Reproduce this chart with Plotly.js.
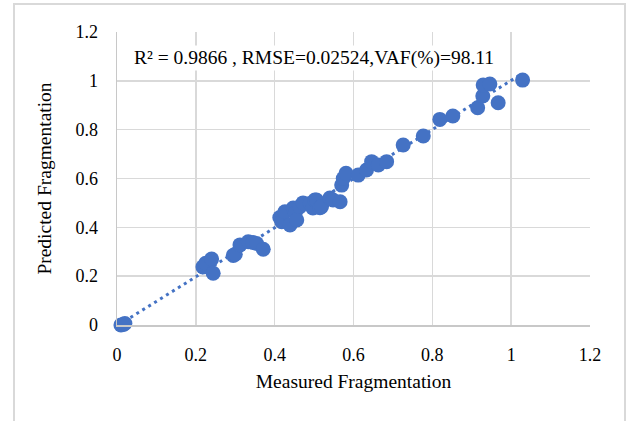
<!DOCTYPE html>
<html>
<head>
<meta charset="utf-8">
<script src="https://cdn.plot.ly/plotly-3.0.1.min.js"></script>
<style>
  html, body { margin: 0; padding: 0; background: #ffffff; }
  #frame { position: absolute; left: 13px; top: 3px; width: 613px; height: 440px; border: 2px solid #d9d9d9; box-sizing: border-box; }
  #chart { position: absolute; left: 0; top: 0; width: 631px; height: 421px; }
</style>
</head>
<body>
<div id="frame"></div>
<div id="chart"></div>
<script>
// Measured vs predicted fragmentation
const measured = [
  0.004, 0.010, 0.016, 0.020,
  0.218, 0.225, 0.240, 0.244,
  0.295, 0.300, 0.312, 0.333, 0.345, 0.354, 0.371,
  0.413, 0.418, 0.426, 0.439, 0.447, 0.452, 0.456, 0.464, 0.472, 0.490,
  0.497, 0.502, 0.506, 0.515, 0.519, 0.540, 0.548, 0.566, 0.570, 0.574, 0.581,
  0.612, 0.633, 0.646, 0.663, 0.684, 0.726, 0.777, 0.819, 0.852,
  0.915, 0.928, 0.929, 0.946, 0.967, 1.029
];
const predicted = [
  -0.002, 0.000, 0.002, 0.006,
  0.238, 0.253, 0.270, 0.212,
  0.285, 0.290, 0.328, 0.341, 0.338, 0.334, 0.310,
  0.440, 0.423, 0.464, 0.410, 0.479, 0.458, 0.430, 0.485, 0.500, 0.498,
  0.479, 0.512, 0.512, 0.480, 0.485, 0.520, 0.512, 0.505, 0.573, 0.600, 0.621,
  0.614, 0.635, 0.669, 0.655, 0.669, 0.737, 0.774, 0.842, 0.856,
  0.890, 0.938, 0.983, 0.987, 0.910, 1.003
];
const xTicks = [0, 0.2, 0.4, 0.6, 0.8, 1, 1.2];
const yTicks = [0, 0.2, 0.4, 0.6, 0.8, 1, 1.2];
const xTickText = ['0', '0.2', '0.4', '0.6', '0.8', '1', '1.2'];
const yTickText = ['0', '0.2', '0.4', '0.6', '0.8', '1', '1.2'];
const statsText = 'R² = 0.9866 , RMSE=0.02524,VAF(%)=98.11';
const xTitle = 'Measured Fragmentation';
const yTitle = 'Predicted Fragmentation';

// Linear trend line fitted to the data (as the spreadsheet did)
const n = measured.length;
const mx = measured.reduce((a, b) => a + b, 0) / n;
const my = predicted.reduce((a, b) => a + b, 0) / n;
let sxy = 0, sxx = 0;
for (let i = 0; i < n; i++) { sxy += (measured[i] - mx) * (predicted[i] - my); sxx += (measured[i] - mx) ** 2; }
const slope = sxy / sxx, icpt = my - slope * mx;
const tx = [Math.min(...measured), Math.max(...measured)];
const ty = tx.map(v => slope * v + icpt);

const blue = '#4472C4';
const font = '"Liberation Serif", "Times New Roman", serif';

const data = [
  { x: tx, y: ty, type: 'scatter', mode: 'lines', cliponaxis: false,
    line: { color: blue, width: 3, dash: '3px,4px' }, hoverinfo: 'skip' },
  { x: measured, y: predicted, type: 'scatter', mode: 'markers', cliponaxis: false,
    marker: { color: blue, size: 15 } }
];

const layout = {
  width: 631, height: 421,
  margin: { l: 117, r: 41, t: 32, b: 96 },
  paper_bgcolor: 'rgba(0,0,0,0)', plot_bgcolor: '#ffffff',
  showlegend: false,
  font: { family: font, size: 18, color: '#000000' },
  xaxis: {
    range: [0, 1.2], tickvals: xTicks, ticktext: xTickText,
    tickfont: { family: font, size: 18, color: '#000000' },
    showgrid: true, gridcolor: '#d9d9d9', gridwidth: 1.5,
    zeroline: false, showline: true, linecolor: '#c8c8c8', linewidth: 1.5,
    ticks: '', ticklabelstandoff: 13,
    title: { text: xTitle, font: { family: font, size: 19.5, color: '#000000' }, standoff: 10 }
  },
  yaxis: {
    range: [0, 1.2], tickvals: yTicks, ticktext: yTickText,
    tickfont: { family: font, size: 18, color: '#000000' },
    showgrid: true, gridcolor: '#d9d9d9', gridwidth: 1.5,
    zeroline: false, showline: true, linecolor: '#c8c8c8', linewidth: 1.5,
    ticks: '', ticklabelstandoff: 14,
    title: { text: yTitle, font: { family: font, size: 19.5, color: '#000000' }, standoff: 18 }
  },
  annotations: [{
    text: statsText, xref: 'paper', yref: 'paper', x: 0.031, y: 0.91,
    xanchor: 'left', yanchor: 'middle', showarrow: false,
    font: { family: font, size: 19.5, color: '#000000' }, bgcolor: '#ffffff'
  }]
};

Plotly.newPlot('chart', data, layout, { displayModeBar: false, staticPlot: true });
</script>
</body>
</html>
